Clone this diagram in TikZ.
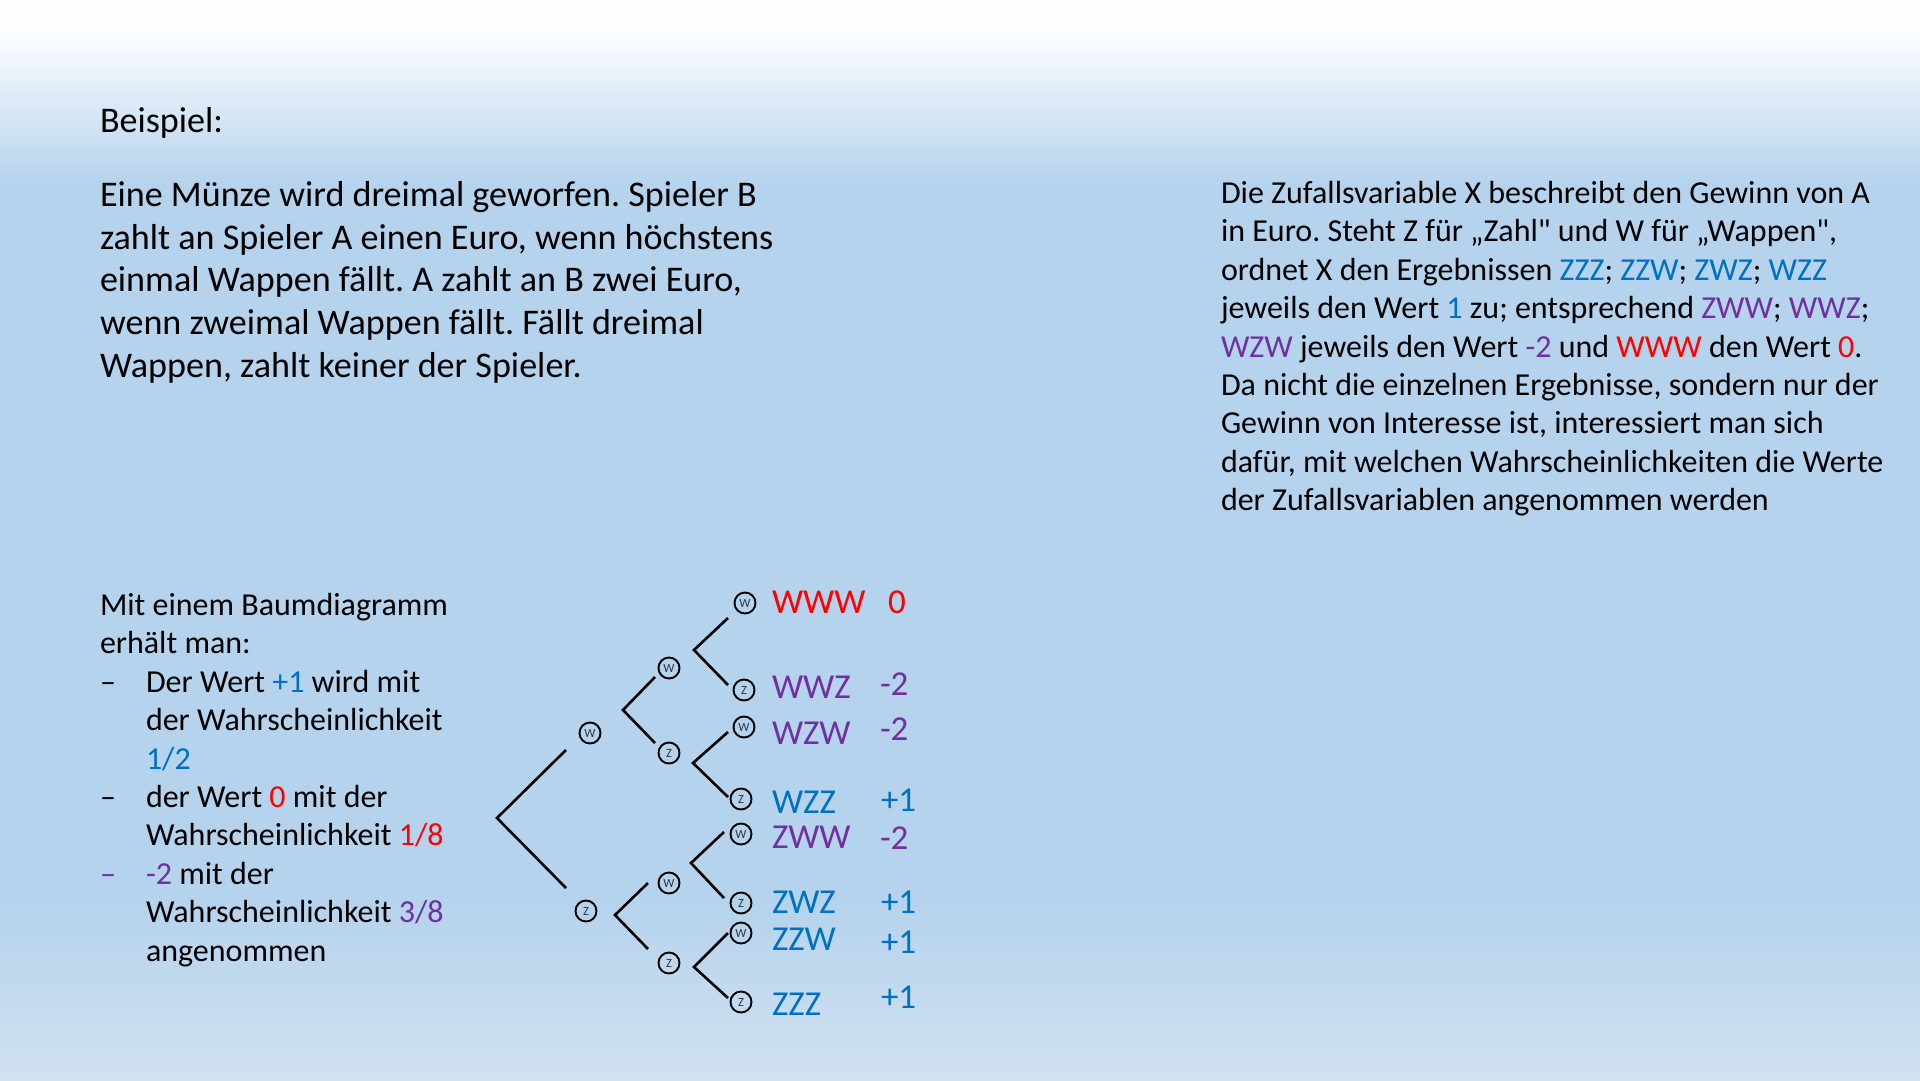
\documentclass[tikz,border=0pt]{standalone}
\usepackage{fontspec}
\setmainfont{Carlito}[Ligatures=TeXOff]
\frenchspacing
\definecolor{bgblue}{RGB}{181,211,237}
\definecolor{bgbot}{RGB}{208,225,240}
\definecolor{ublue}{RGB}{0,112,192}
\definecolor{upurple}{RGB}{112,48,160}
\definecolor{ured}{RGB}{255,0,0}
\definecolor{coinletter}{RGB}{45,55,70}
\newcommand{\cb}[1]{\textcolor{ublue}{#1}}
\newcommand{\cp}[1]{\textcolor{upurple}{#1}}
\newcommand{\cre}[1]{\textcolor{ured}{#1}}
\begin{document}
\begin{tikzpicture}[x=1pt,y=-1pt,
  txt/.style={anchor=base west, inner sep=0pt, outer sep=0pt},
  big/.style={txt, font=\fontsize{36.1pt}{43pt}\selectfont},
  small/.style={txt, font=\fontsize{32pt}{38pt}\selectfont},
  leaf/.style={txt, font=\fontsize{35pt}{42pt}\selectfont},
  coin/.style={circle, draw=black, line width=1.9pt, minimum size=21pt, inner sep=0pt,
    text=coinletter, font=\fontsize{12.5pt}{12.5pt}\selectfont},
  branch/.style={draw=black, line width=2.6pt}]
\useasboundingbox (0,0) rectangle (1920,1080);
% background
\fill[bgblue] (0,0) rectangle (1920,1080);
\fill[white!98!bgblue] (0,0) rectangle (1920,30);
\shade[top color=white!98!bgblue, bottom color=bgblue] (0,29) rectangle (1920,185);
\shade[top color=bgblue, bottom color=bgbot] (0,900) rectangle (1920,1080);

% top left text
\node[big] (beispiel) at (100,132) {Beispiel:};
\node[big] (p1) at (100,206) {Eine Münze wird dreimal geworfen. Spieler B};
\node[big] (p2) at (100,249) {zahlt an Spieler A einen Euro, wenn höchstens};
\node[big] (p3) at (100,291) {einmal Wappen fällt. A zahlt an B zwei Euro,};
\node[big] (p4) at (100,334) {wenn zweimal Wappen fällt. Fällt dreimal};
\node[big] (p5) at (100,377) {Wappen, zahlt keiner der Spieler.};

% right text
\node[small] (r1) at (1221,203) {Die Zufallsvariable X beschreibt den Gewinn von A};
\node[small] (r2) at (1221,241) {in Euro. Steht Z für „Zahl" und W für „Wappen",};
\node[small] (r3) at (1221,280) {ordnet X den Ergebnissen \cb{ZZZ}; \cb{ZZW}; \cb{ZWZ}; \cb{WZZ}};
\node[small] (r4) at (1221,318) {jeweils den Wert \cb{1} zu; entsprechend \cp{ZWW}; \cp{WWZ};};
\node[small] (r5) at (1221,357) {\cp{WZW} jeweils den Wert \cp{-2} und \cre{WWW} den Wert \cre{0}.};
\node[small] (r6) at (1221,395) {Da nicht die einzelnen Ergebnisse, sondern nur der};
\node[small] (r7) at (1221,433) {Gewinn von Interesse ist, interessiert man sich};
\node[small] (r8) at (1221,472) {dafür, mit welchen Wahrscheinlichkeiten die Werte};
\node[small] (r9) at (1221,510) {der Zufallsvariablen angenommen werden};

% bottom left text
\node[small] (b1) at (100,615) {Mit einem Baumdiagramm};
\node[small] (b2) at (100,653) {erhält man:};
\node[small] (d1) at (100,692) {–};
\node[small] (b3) at (146,692) {Der Wert \cb{+1} wird mit};
\node[small] (b4) at (146,730) {der Wahrscheinlichkeit};
\node[small] (b5) at (146,769) {\cb{1/2}};
\node[small] (d2) at (100,807) {–};
\node[small] (b6) at (146,807) {der Wert \cre{0} mit der};
\node[small] (b7) at (146,845) {Wahrscheinlichkeit \cre{1/8}};
\node[small] (d3) at (100,884) {\cp{–}};
\node[small] (b8) at (146,884) {\cp{-2} mit der};
\node[small] (b9) at (146,922) {Wahrscheinlichkeit \cp{3/8}};
\node[small] (b10) at (146,961) {angenommen};

% tree: coin nodes
\node[coin] (cW) at (590,733) {W};
\node[coin] (cZ) at (586,911) {Z};
\node[coin] (cWW) at (669,668) {W};
\node[coin] (cWZ) at (669,753) {Z};
\node[coin] (cZW) at (669,883) {W};
\node[coin] (cZZ) at (669,963) {Z};
\node[coin] (cWWW) at (745,603) {W};
\node[coin] (cWWZ) at (744,690) {Z};
\node[coin] (cWZW) at (744,727) {W};
\node[coin] (cWZZ) at (741,799) {Z};
\node[coin] (cZWW) at (741,834) {W};
\node[coin] (cZWZ) at (741,903) {Z};
\node[coin] (cZZW) at (741,933) {W};
\node[coin] (cZZZ) at (741,1002) {Z};

% tree: branch coordinates
\coordinate (v0) at (497,818);
\coordinate (e0a) at (566,750);
\coordinate (e0b) at (566,888);
\coordinate (vW) at (623,710);
\coordinate (eWa) at (655,677);
\coordinate (eWb) at (655,743);
\coordinate (vZ) at (615,915);
\coordinate (eZa) at (648,883);
\coordinate (eZb) at (648,949);
\coordinate (vWW) at (694,650);
\coordinate (eWWa) at (728,618);
\coordinate (eWWb) at (728,685);
\coordinate (vWZ) at (693,763);
\coordinate (eWZa) at (728,732);
\coordinate (eWZb) at (728,797);
\coordinate (vZW) at (691,863);
\coordinate (eZWa) at (724,832);
\coordinate (eZWb) at (724,898);
\coordinate (vZZ) at (694,967);
\coordinate (eZZa) at (728,933);
\coordinate (eZZb) at (728,998);

\draw[branch] (e0a) -- (v0) -- (e0b);
\draw[branch] (eWa) -- (vW) -- (eWb);
\draw[branch] (eZa) -- (vZ) -- (eZb);
\draw[branch] (eWWa) -- (vWW) -- (eWWb);
\draw[branch] (eWZa) -- (vWZ) -- (eWZb);
\draw[branch] (eZWa) -- (vZW) -- (eZWb);
\draw[branch] (eZZa) -- (vZZ) -- (eZZb);

% tree: outcome labels
\node[leaf, text=ured] (lWWW) at (772,613) {WWW};
\node[leaf, text=upurple] (lWWZ) at (772,698) {WWZ};
\node[leaf, text=upurple] (lWZW) at (772,744) {WZW};
\node[leaf, text=ublue] (lWZZ) at (772,813) {WZZ};
\node[leaf, text=upurple] (lZWW) at (772,848) {ZWW};
\node[leaf, text=ublue] (lZWZ) at (772,913) {ZWZ};
\node[leaf, text=ublue] (lZZW) at (772,950) {ZZW};
\node[leaf, text=ublue] (lZZZ) at (772,1015) {ZZZ};

\node[leaf, text=ured] (xWWW) at (888,613) {0};
\node[leaf, text=upurple] (xWWZ) at (880,695) {-2};
\node[leaf, text=upurple] (xWZW) at (880,740) {-2};
\node[leaf, text=ublue] (xWZZ) at (881,811) {+1};
\node[leaf, text=upurple] (xZWW) at (880,849) {-2};
\node[leaf, text=ublue] (xZWZ) at (881,913) {+1};
\node[leaf, text=ublue] (xZZW) at (881,953) {+1};
\node[leaf, text=ublue] (xZZZ) at (881,1008) {+1};
\end{tikzpicture}
\end{document}
